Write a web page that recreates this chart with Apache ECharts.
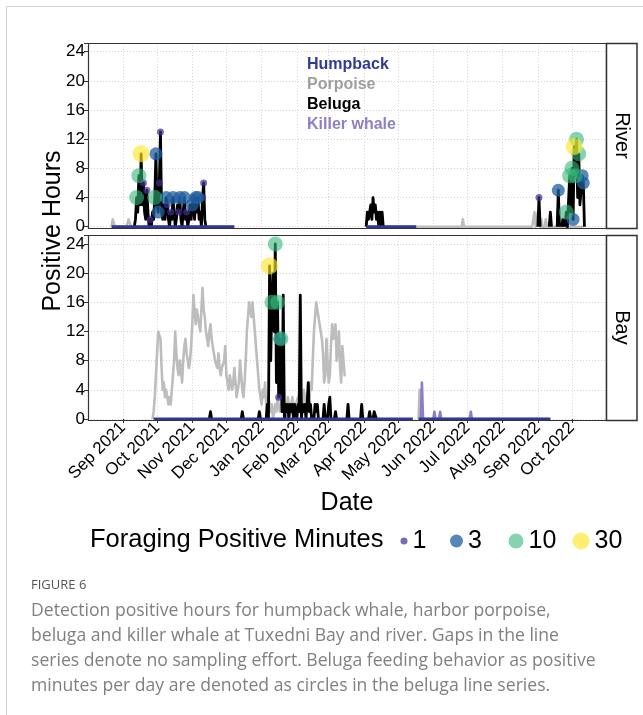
<!DOCTYPE html>
<html>
<head>
<meta charset="utf-8">
<script src="https://cdn.jsdelivr.net/npm/echarts@6/dist/echarts.min.js"></script>
<style>
  html, body { margin: 0; padding: 0; background: #ffffff; }
  #chart { width: 643px; height: 715px; }
</style>
</head>
<body>
<div id="chart"></div>
<script>
// ---------------------------------------------------------------
// Acoustic detections, Tuxedni River and Tuxedni Bay
// Values are positive hours per day; runs are [first day, daily values]
// ---------------------------------------------------------------

const yTicks = [0, 4, 8, 12, 16, 20, 24];
const monthNames = ['Jan', 'Feb', 'Mar', 'Apr', 'May', 'Jun', 'Jul', 'Aug', 'Sep', 'Oct', 'Nov', 'Dec'];

const speciesNames = ['Humpback', 'Porpoise', 'Beluga', 'Killer whale'];
const panelNames = ['River', 'Bay'];

// sampling periods (a gap means no recording effort)
const humpbackRiverEffort = [['2021-08-22', '2021-12-08'], ['2022-04-03', '2022-05-17']];
const humpbackBayEffort = [['2021-09-28', '2022-05-14'], ['2022-05-19', '2022-09-12']];
const porpoiseRiverEffort = [['2021-08-22', '2021-12-08'], ['2022-04-03', '2022-10-11']];
const porpoiseBayEffort = [['2021-09-27', '2022-03-16'], ['2022-05-19', '2022-09-12']];

// harbor porpoise
const porpoiseRiverRuns = [
  ['2021-08-22', [0, 1, 1, 0]],
  ['2021-09-05', [0, 1, 1, 0]],
  ['2022-06-26', [0, 1, 0]],
  ['2022-08-28', [0, 2, 0, 1, 2, 1, 0, 1, 0, 0, 0, 1, 0]],
  ['2022-09-21', [0, 1, 0, 1, 0]]
];
const porpoiseBayRuns = [
  ['2021-09-27', [
    0, 1, 3, 6, 9, 12, 12, 11, 7, 4,
    5, 3, 4, 3, 2, 3, 2, 4, 6, 8,
    12, 9, 7, 6, 8, 7, 5, 8, 10, 11,
    9, 8, 7, 8, 10, 13, 17, 15, 13, 15,
    15, 13, 12, 15, 18, 15, 14, 12, 11, 10,
    12, 13, 11, 10, 9, 8, 8, 7, 9, 7,
    6, 7, 7, 8, 10, 6, 5, 4, 6, 6,
    4, 5, 7, 5, 3, 4, 5, 8, 6, 4,
    3, 5, 8, 12, 14, 16, 15, 14, 16, 14,
    12, 10, 8, 6, 4, 3, 2, 4, 3, 5,
    2, 1, 3, 2, 1, 2, 0, 1, 2, 1,
    3, 2, 1, 2, 1, 3, 2, 2, 1, 3,
    2, 1, 2, 3, 2, 1, 2, 2, 3, 2,
    4, 3, 2, 4, 3, 2, 3, 4, 3, 5,
    4, 8, 12, 14, 16, 16, 14, 14, 12, 11,
    9, 5, 6, 11, 8, 5, 6, 10, 13, 11,
    12, 13, 8, 10, 12, 7, 5, 10, 8, 6,
    6, 6]],
  ['2022-05-19', [0, 4, 0]]
];

// beluga
const belugaRiverRuns = [
  ['2021-09-11', [
    0, 1, 4, 2, 7, 3, 10, 3, 6, 2,
    1, 5, 2, 0, 1, 0, 2, 1, 4, 10,
    3, 2, 6, 13, 2, 1, 3, 1, 4, 3,
    1, 0, 2, 1, 4, 2, 0, 1, 3, 2,
    4, 1, 0, 2, 4, 1, 2, 0, 1, 3,
    1, 3, 4, 1, 4, 2, 4, 1, 2, 0,
    4, 6, 1, 0]],
  ['2022-04-03', [0, 2, 1, 2, 3, 1, 4, 2, 3, 1, 2, 0, 2, 0, 2, 0]],
  ['2022-09-01', [0, 4, 0]],
  ['2022-09-11', [0, 2, 0]],
  ['2022-09-18', [0, 5, 0]],
  ['2022-09-22', [0, 1, 0]],
  ['2022-09-25', [0, 2, 0, 0, 7, 2, 8, 1, 11, 7, 12, 4, 10, 3, 5, 7, 6, 0]]
];
const belugaBayRuns = [
  ['2021-11-16', [0, 1, 0]],
  ['2021-12-14', [0, 1, 0]],
  ['2021-12-29', [0, 1, 0]],
  ['2022-01-05', [
    0, 2, 0, 21, 8, 16, 20, 12, 24, 5,
    16, 3, 11, 11, 1, 17, 0, 2, 1, 2,
    0, 2, 1, 2, 0, 2, 1, 0, 2, 1,
    17, 0, 2, 1, 2, 0, 2, 5, 1, 2, 0]],
  ['2022-02-16', [0, 2, 1, 2, 0]],
  ['2022-02-24', [0, 2, 0]],
  ['2022-02-28', [0, 2, 3, 0]],
  ['2022-03-06', [0, 1, 0]],
  ['2022-03-17', [0, 2, 0]],
  ['2022-03-29', [0, 2, 0]],
  ['2022-04-05', [0, 1, 0]],
  ['2022-04-09', [0, 1, 1, 0]]
];

// killer whale
const killerWhaleRiverRuns = [];
const killerWhaleBayRuns = [
  ['2022-01-05', [0, 2, 0]],
  ['2022-01-22', [0, 2, 0]],
  ['2022-05-21', [0, 5, 0]],
  ['2022-06-01', [0, 1, 0]],
  ['2022-06-06', [0, 1, 0]],
  ['2022-07-03', [0, 1, 0]]
];

// beluga foraging: [day, positive minutes class]
const foragingRiver = [
  ['2021-09-13', 10], ['2021-09-15', 10], ['2021-09-17', 30], ['2021-09-19', 1],
  ['2021-09-22', 1], ['2021-09-25', 1], ['2021-09-29', 10], ['2021-09-30', 3],
  ['2021-10-02', 3], ['2021-10-03', 1], ['2021-10-04', 1], ['2021-10-09', 3],
  ['2021-10-10', 1], ['2021-10-13', 1], ['2021-10-15', 3], ['2021-10-20', 1],
  ['2021-10-21', 3], ['2021-10-25', 3], ['2021-10-27', 1], ['2021-11-01', 3],
  ['2021-11-02', 1], ['2021-11-04', 3], ['2021-11-06', 3], ['2021-11-10', 1],
  ['2021-11-11', 1],
  ['2022-09-02', 1], ['2022-09-19', 3], ['2022-09-26', 10], ['2022-09-29', 10],
  ['2022-10-01', 10], ['2022-10-02', 3], ['2022-10-03', 30], ['2022-10-04', 10],
  ['2022-10-05', 10], ['2022-10-07', 10], ['2022-10-10', 3], ['2022-10-11', 3]
];
const foragingBay = [
  ['2022-01-08', 30], ['2022-01-10', 10], ['2022-01-13', 10], ['2022-01-15', 10],
  ['2022-01-16', 1], ['2022-01-17', 3], ['2022-01-18', 10]
];

const minuteLevels = [1, 3, 10, 30];

// ---------------------------------------------------------------
// styling
// ---------------------------------------------------------------
const FONT = '"Liberation Sans", Arial, Helvetica, sans-serif';
const CAPTION_FONT = '"Open Sans", "Noto Sans", sans-serif';
const COLORS = {
  Humpback: '#2e3993',
  Porpoise: '#bdbdbd',
  Beluga: '#000000',
  'Killer whale': '#8f7dc6'
};
const LEGEND_TEXT = {
  Humpback: '#2e3b98',
  Porpoise: '#9e9e9e',
  Beluga: '#000000',
  'Killer whale': '#8f7fc4'
};
const LEVEL_STYLE = {
  1: { size: 7, color: '#3f2f94', opacity: 0.7 },
  3: { size: 13, color: '#1f5f9f', opacity: 0.75 },
  10: { size: 15, color: '#35b779', opacity: 0.6 },
  30: { size: 17, color: '#fde725', opacity: 0.65 }
};

// panel geometry
const PLOT_LEFT = 88, PLOT_W = 518;
const PANELS = [
  { frameTop: 43, frameBottom: 228, gridTop: 42.95 },
  { frameTop: 235, frameBottom: 420, gridTop: 235.25 }
];
const GRID_H = 183.75;
const Y_MAX = 25.2;

// ---------------------------------------------------------------
// helpers
// ---------------------------------------------------------------
function parseDay(s) {
  const p = s.split('-').map(Number);
  return new Date(p[0], p[1] - 1, p[2]);
}
function addDays(dt, n) {
  return new Date(dt.getFullYear(), dt.getMonth(), dt.getDate() + n);
}
function dayKey(dt) {
  return dt.getFullYear() + '-' + (dt.getMonth() + 1) + '-' + dt.getDate();
}
function runsToMap(runs) {
  const m = new Map();
  runs.forEach(function (r) {
    const s = parseDay(r[0]);
    r[1].forEach(function (v, i) { m.set(dayKey(addDays(s, i)), v); });
  });
  return m;
}
// daily line across each sampling period; days without detections are 0
function effortLine(effort, runs) {
  const m = runsToMap(runs);
  const out = [];
  effort.forEach(function (span, k) {
    let d = parseDay(span[0]);
    const end = parseDay(span[1]);
    if (k > 0) out.push([d.getTime() - 43200000, '-']);
    while (d <= end) {
      const key = dayKey(d);
      out.push([d.getTime(), m.has(key) ? m.get(key) : 0]);
      d = addDays(d, 1);
    }
  });
  return out;
}
// detection runs only, each drawn as its own stretch of line
function runLine(runs) {
  const out = [];
  runs.forEach(function (r) {
    const s = parseDay(r[0]);
    r[1].forEach(function (v, i) { out.push([addDays(s, i).getTime(), v]); });
    out.push([addDays(s, r[1].length).getTime() - 43200000, '-']);
  });
  return out;
}
function foragingPoints(list, belugaRuns, level) {
  const m = runsToMap(belugaRuns);
  return list.filter(function (f) { return f[1] === level; }).map(function (f) {
    const d = parseDay(f[0]);
    return [d.getTime(), m.get(dayKey(d)), f[1]];
  });
}

const sites = [
  {
    Humpback: effortLine(humpbackRiverEffort, []),
    Porpoise: effortLine(porpoiseRiverEffort, porpoiseRiverRuns),
    'Killer whale': runLine(killerWhaleRiverRuns),
    Beluga: runLine(belugaRiverRuns),
    belugaRuns: belugaRiverRuns,
    foraging: foragingRiver
  },
  {
    Humpback: effortLine(humpbackBayEffort, []),
    Porpoise: effortLine(porpoiseBayEffort, porpoiseBayRuns),
    'Killer whale': runLine(killerWhaleBayRuns),
    Beluga: runLine(belugaBayRuns),
    belugaRuns: belugaBayRuns,
    foraging: foragingBay
  }
];

const LINE_ORDER = [
  { name: 'Porpoise', width: 2.6, z: 2 },
  { name: 'Killer whale', width: 2.6, z: 3 },
  { name: 'Beluga', width: 2.8, z: 4 },
  { name: 'Humpback', width: 3, z: 5 }
];

const series = [];
sites.forEach(function (site, gi) {
  LINE_ORDER.forEach(function (ls) {
    series.push({
      type: 'line',
      name: ls.name,
      xAxisIndex: gi,
      yAxisIndex: gi,
      data: site[ls.name],
      showSymbol: false,
      symbol: 'none',
      connectNulls: false,
      clip: false,
      z: ls.z,
      color: COLORS[ls.name],
      lineStyle: { color: COLORS[ls.name], width: ls.width, join: 'round', cap: 'butt' },
      emphasis: { disabled: true },
      silent: true
    });
  });
  minuteLevels.forEach(function (level) {
    const st = LEVEL_STYLE[level];
    series.push({
      type: 'scatter',
      name: String(level),
      xAxisIndex: gi,
      yAxisIndex: gi,
      data: foragingPoints(site.foraging, site.belugaRuns, level),
      symbol: 'circle',
      symbolSize: st.size,
      clip: false,
      z: 6,
      itemStyle: { color: st.color, opacity: st.opacity },
      emphasis: { disabled: true },
      silent: true
    });
  });
});

const DAY = 86400000;
const xMin = new Date(2021, 7, 1, 6).getTime();
const xMax = xMin + 455.7 * DAY;

function monthLabel(v) {
  const d = new Date(v);
  return monthNames[d.getMonth()] + ' ' + d.getFullYear();
}

const gridLine = { color: '#d6d6d6', width: 1, type: [1, 2] };

const xAxes = [0, 1].map(function (i) {
  return {
    type: 'time',
    gridIndex: i,
    min: xMin,
    max: xMax,
    splitNumber: 15,
    minInterval: 28 * DAY,
    maxInterval: 31 * DAY,
    axisLine: { show: false },
    axisTick: { show: i === 1, length: 4, lineStyle: { color: '#333333', width: 1 } },
    axisLabel: {
      show: i === 1, rotate: 45, margin: 6, fontSize: 17, fontFamily: FONT, color: '#000',
      formatter: monthLabel, showMinLabel: false, showMaxLabel: false, interval: 0
    },
    splitLine: { show: true, lineStyle: gridLine }
  };
});

const yAxes = [0, 1].map(function (i) {
  return {
    type: 'value',
    gridIndex: i,
    min: 0,
    max: Y_MAX,
    interval: 4,
    axisLine: { show: false },
    axisTick: { show: true, length: 4, lineStyle: { color: '#333333', width: 1 } },
    axisLabel: {
      fontSize: 17, fontFamily: FONT, color: '#000', margin: 3,
      formatter: function (v) { return yTicks.indexOf(v) >= 0 ? String(v) : ''; }
    },
    splitLine: { show: true, lineStyle: gridLine }
  };
});

const grids = PANELS.map(function (p) {
  return { left: PLOT_LEFT, top: p.gridTop, width: PLOT_W, height: GRID_H, show: false, containLabel: false };
});

// legends: species names as coloured text, foraging minutes as sized circles
const legends = [{
  data: speciesNames.map(function (n) {
    return { name: n, textStyle: { color: LEGEND_TEXT[n] } };
  }),
  orient: 'vertical',
  left: 301,
  top: 55,
  itemWidth: 0,
  itemHeight: 0,
  itemGap: 0,
  padding: 0,
  selectedMode: false,
  textStyle: { fontSize: 16, fontWeight: 'bold', fontFamily: FONT, lineHeight: 20 }
}];
const levelLegendLeft = { 1: 400.5, 3: 450, 10: 508.5, 30: 572.5 };
minuteLevels.forEach(function (level) {
  const st = LEVEL_STYLE[level];
  legends.push({
    data: [{ name: String(level), icon: 'circle', itemStyle: { color: st.color, opacity: st.opacity } }],
    left: levelLegendLeft[level],
    top: 527,
    itemWidth: st.size,
    itemHeight: st.size,
    padding: 0,
    selectedMode: false,
    textStyle: { fontSize: 25, fontFamily: FONT, color: '#000', lineHeight: 28 }
  });
});

const graphics = [
  // page frame
  { type: 'rect', silent: true, z: 0, shape: { x: 6.5, y: 6.5, width: 700, height: 800 },
    style: { fill: 'none', stroke: '#cfcfcf', lineWidth: 1 } }
];
PANELS.forEach(function (p, i) {
  const h = p.frameBottom - p.frameTop;
  graphics.push({
    type: 'rect', silent: true, z: 50,
    shape: { x: PLOT_LEFT + 0.5, y: p.frameTop + 0.5, width: PLOT_W, height: h },
    style: { fill: 'none', stroke: '#333333', lineWidth: 1.2 }
  });
  graphics.push({
    type: 'rect', silent: true, z: 50,
    shape: { x: PLOT_LEFT + PLOT_W + 0.5, y: p.frameTop + 0.5, width: 30.5, height: h },
    style: { fill: '#ffffff', stroke: '#333333', lineWidth: 1.5 }
  });
  graphics.push({
    type: 'text', silent: true, z: 51,
    x: PLOT_LEFT + PLOT_W + 16, y: p.frameTop + h / 2, rotation: -Math.PI / 2,
    style: { text: panelNames[i], fontSize: 20, fontFamily: FONT, fill: '#000',
      align: 'center', verticalAlign: 'middle' }
  });
});
graphics.push(
  { type: 'text', silent: true, x: 53, y: 231, rotation: Math.PI / 2,
    style: { text: 'Positive Hours', fontSize: 25, fontFamily: FONT, fill: '#000',
      align: 'center', verticalAlign: 'middle' } },
  { type: 'text', silent: true, x: 347, y: 503,
    style: { text: 'Date', fontSize: 25, fontFamily: FONT, fill: '#000',
      align: 'center', verticalAlign: 'middle' } },
  { type: 'text', silent: true, x: 90, y: 540,
    style: { text: 'Foraging Positive Minutes', fontSize: 25.5, fontFamily: FONT, fill: '#000',
      align: 'left', verticalAlign: 'middle' } },
  { type: 'text', silent: true, x: 31, y: 585,
    style: { text: 'FIGURE 6', fontSize: 13, fontFamily: CAPTION_FONT, fill: '#555555',
      align: 'left', verticalAlign: 'middle' } }
);
const captionLines = [
  'Detection positive hours for humpback whale, harbor porpoise,',
  'beluga and killer whale at Tuxedni Bay and river. Gaps in the line',
  'series denote no sampling effort. Beluga feeding behavior as positive',
  'minutes per day are denoted as circles in the beluga line series.'
];
captionLines.forEach(function (t, i) {
  graphics.push({
    type: 'text', silent: true, x: 31, y: 611 + i * 25,
    style: { text: t, fontSize: 17.6, fontFamily: CAPTION_FONT, fill: '#808080',
      align: 'left', verticalAlign: 'middle' }
  });
});

const chart = echarts.init(document.getElementById('chart'), null, { renderer: 'canvas' });
chart.setOption({
  animation: false,
  backgroundColor: '#ffffff',
  grid: grids,
  xAxis: xAxes,
  yAxis: yAxes,
  legend: legends,
  series: series,
  graphic: graphics
});
</script>
</body>
</html>
